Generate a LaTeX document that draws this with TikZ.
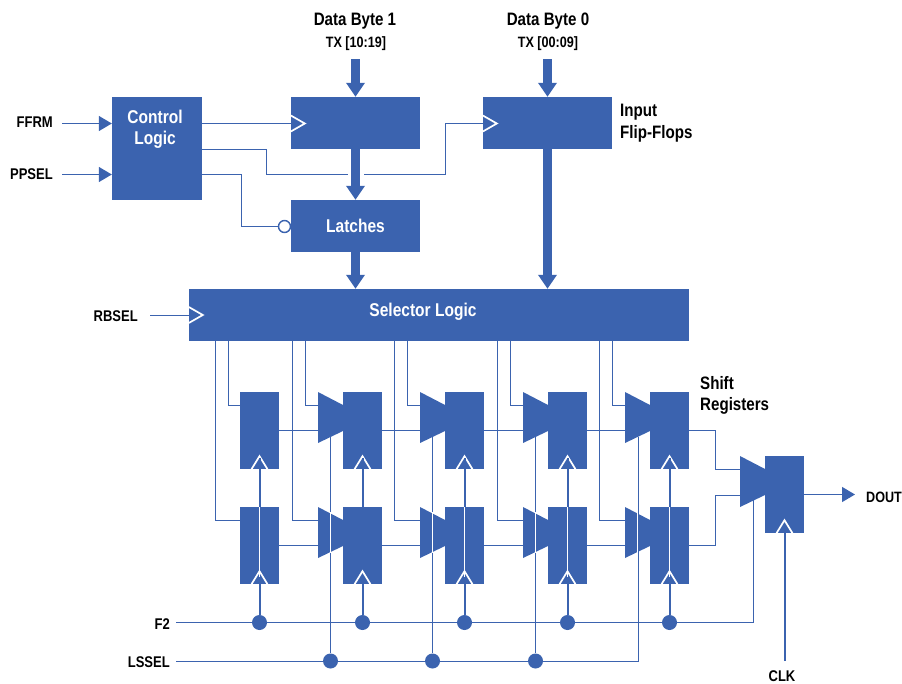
\documentclass[tikz,border=0pt]{standalone}
\usepackage{fontspec}
\setmainfont{Liberation Sans}[FakeStretch=0.84]
\usetikzlibrary{arrows.meta,calc,positioning}
\definecolor{blockblue}{HTML}{3B63AF}
\tikzset{
  block/.style={fill=blockblue,inner sep=0pt,font=\fontsize{18.5}{21}\selectfont\bfseries,text=white,align=center},
  shiftreg/.style={block,minimum width=39pt,minimum height=77pt},
  blocktext/.style={inner sep=0pt,font=\fontsize{18.5}{21}\selectfont\bfseries,text=white,align=center},
  wire/.style={blockblue,line width=1.4pt},
  clockwire/.style={blockblue,line width=2pt},
  wirearrow/.style={wire,-{Triangle[length=13pt,width=15pt]}},
  busarrow/.style={blockblue,line width=9pt,-{Triangle[length=14pt,width=18pt]}},
  clockmark/.style={white,line width=1.7pt},
  passline/.style={white,line width=1.4pt},
  junction/.style={circle,fill=blockblue,inner sep=0pt,minimum size=15pt},
  signal/.style={inner sep=0pt,font=\fontsize{15.5}{18}\selectfont\bfseries,align=left},
  heading/.style={signal,font=\fontsize{18}{21.5}\selectfont\bfseries},
  subheading/.style={signal,font=\fontsize{15}{18}\selectfont\bfseries},
  mux/.pic={\fill[blockblue] (0,0)--(25,13)--(25,39)--(0,51)--cycle;}
}
\newcommand{\clockup}[1]{\draw[clockmark] ($(#1)+(-8,0)$)--($(#1)+(0,-13)$)--($(#1)+(8,0)$);}
\newcommand{\clockright}[1]{\draw[clockmark] ($(#1)+(0,-8)$)--($(#1)+(14,0)$)--($(#1)+(0,8)$);}
\begin{document}
\begin{tikzpicture}[x=1pt,y=-1pt]
\useasboundingbox (0,0) rectangle (902,683);
% upper blocks
\node[block,minimum width=90pt,minimum height=103pt] (control) at (157,148.5) {};
\node[block,minimum width=129pt,minimum height=52pt] (ffone) at (355.5,123) {};
\node[block,minimum width=129pt,minimum height=52pt] (ffzero) at (547.5,123) {};
\node[block,minimum width=129pt,minimum height=52pt] (latches) at (355.5,226) {};
\node[block,minimum width=500pt,minimum height=52pt] (selector) at (439,315) {};
\node[blocktext] (latchtext) at (355.5,225.5) {Latches};
\node[blocktext] (selectortext) at (423,311.5) {Selector Logic};
\node[blocktext] (controltext) at (155,129) {Control\\Logic};
% labels
\node[signal,anchor=east] (ffrm) at (53,122) {FFRM};
\node[signal,anchor=east] (ppsel) at (53,174) {PPSEL};
\node[signal,anchor=east] (rbsel) at (138,316.5) {RBSEL};
\node[signal,anchor=east] (ftwo) at (170,624) {F2};
\node[signal,anchor=east] (lssel) at (170,662) {LSSEL};
\node[signal] (clk) at (782,676) {CLK};
\node[signal,anchor=west,font=\fontsize{15}{18}\selectfont\bfseries] (dout) at (866,497) {DOUT};
\node[heading] (byteone) at (355,21.5) {Data Byte 1};
\node[subheading] (txone) at (356,43.5) {TX [10:19]};
\node[heading] (bytezero) at (548,21.5) {Data Byte 0};
\node[subheading] (txzero) at (548,43.5) {TX [00:09]};
\node[heading,anchor=west] (inputff) at (620,123) {Input\\Flip-Flops};
\node[heading,anchor=west] (shiftregs) at (700,395.5) {Shift\\Registers};
% buses
\coordinate (busone) at (355.5,59);
\coordinate (buszero) at (547.5,59);
\draw[busarrow] (busone)--(ffone.north);
\draw[busarrow] (buszero)--(ffzero.north);
\draw[busarrow] (ffone.south)--(latches.north);
\draw[busarrow] (latches.south)--(selector.north -| latches.south);
\draw[busarrow] (ffzero.south)--(selector.north -| ffzero.south);
% control wires
\draw[wirearrow] (62,123.5)--(control.west |- 0,123.5);
\draw[wirearrow] (62,174.5)--(control.west |- 0,174.5);
\draw[wire] (control.east |- 0,123.5)--(ffone.west |- 0,123.5);
\draw[wire] (control.east |- 0,149.5)--(266.5,149.5)--(266.5,174.5)--(348,174.5);
\draw[wire] (364,174.5)--(445.5,174.5)--(445.5,123.5)--(ffzero.west |- 0,123.5);
\draw[wire] (control.east |- 0,174.5)--(241.5,174.5)--(241.5,226.5)--(278,226.5);
\draw[wire,fill=white] (284.5,226.5) circle (6pt);
\draw[wire] (150,315.5)--(selector.west |- 0,315.5);
\coordinate (clkone) at (ffone.west |- 0,123.5);
\coordinate (clkzero) at (ffzero.west |- 0,123.5);
\clockright{clkone}
\clockright{clkzero}
\clockright{selector.west}
% shift registers
\foreach \i/\x/\a/\b in {1/259.5/215.5/228.5,2/362.5/292.5/305.5,3/464.5/394.5/407.5,4/567.5/497.5/510.5,5/669.5/599.5/612.5}{
  \node[shiftreg] (up\i) at (\x,430.5) {};
  \node[shiftreg] (lo\i) at (\x,545.5) {};
  \node[junction] (clkdot\i) at (\x,622.5) {};
  \draw[wire] (selector.south -| \a,0)--(\a,520.5)--(lo\i.west |- 0,520.5);
  \draw[wire] (selector.south -| \b,0)--(\b,405.5)--(up\i.west |- 0,405.5);
  \draw[clockwire] (clkdot\i)--(up\i.south);
}
\node[shiftreg] (final) at (784.5,494.5) {};
% data wires between columns
\foreach \i/\j in {1/2,2/3,3/4,4/5}{
  \draw[wire] (up\i.east)--(up\j.west);
  \draw[wire] (lo\i.east)--(lo\j.west);
}
\draw[wire] (up5.east)--(715.5,430.5)--(715.5,469.5)--(740,469.5);
\draw[wire] (lo5.east)--(715.5,545.5)--(715.5,495.5)--(740,495.5);
% select and clock rails
\coordinate (finsel) at (753.5,500);
\coordinate (lastsel) at (638.5,437);
\draw[wire] (176,622.5)--(753.5,622.5)--(finsel);
\draw[wire] (176,661.5)--(638.5,661.5)--(lastsel);
\foreach \i/\x in {1/330.5,2/432.5,3/535.5}{
  \node[junction] (seldot\i) at (\x,661) {};
  \coordinate (selend\i) at (\x,437);
  \draw[wire] (seldot\i)--(selend\i);
}
% multiplexers
\foreach \i/\x in {2/318,3/420,4/523,5/625}{
  \pic (muup\i) at (\x,392) {mux};
  \pic (mulo\i) at (\x,507) {mux};
  \draw[passline] (\x+12.5,512)--(\x+12.5,553);
}
\pic (mufin) at (740,456) {mux};
% clock marks
\foreach \i in {1,3,4,5}{
  \draw[passline] (lo\i.south)--(lo\i.north);
}
\foreach \i in {1,...,5}{
  \clockup{up\i.south}
  \clockup{lo\i.south}
  \draw[clockwire] (up\i.south)--++(0,-11);
  \draw[clockwire] (clkdot\i)--(lo\i.south);
  \draw[clockwire] (lo\i.south)--++(0,-7);
}
\coordinate (clkend) at (784.5,661);
\draw[clockwire] (clkend)--(final.south);
\clockup{final.south}
\draw[wirearrow] (final.east)--(855,494.5);
\end{tikzpicture}
\end{document}
